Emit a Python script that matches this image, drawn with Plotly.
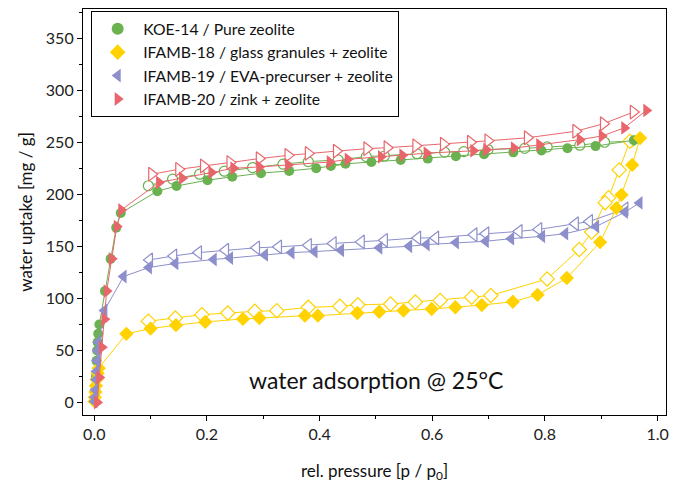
import plotly.graph_objects as go

# ---- KOE-14 / Pure zeolite ----
koe_ads_p = [0.0005, 0.002, 0.003, 0.004, 0.005, 0.006, 0.007, 0.009, 0.019, 0.029, 0.039, 0.047,
             0.112, 0.146, 0.201, 0.245, 0.296, 0.346, 0.394, 0.420, 0.446, 0.492, 0.544, 0.592,
             0.642, 0.692, 0.744, 0.794, 0.840, 0.890, 0.958]
koe_ads_v = [2, 12, 25, 40, 50, 58, 66, 75, 107, 138, 168, 182,
             203, 208, 213.6, 216.8, 220.3, 222.5, 225, 227.2, 229.3, 231, 233, 234.3,
             236.5, 238.4, 240.3, 242, 244.3, 246.3, 252]
koe_des_p = [0.953, 0.906, 0.862, 0.804, 0.764, 0.699, 0.656, 0.622, 0.573, 0.515, 0.483,
             0.433, 0.380, 0.335, 0.281, 0.231, 0.187, 0.139, 0.096]
koe_des_v = [251, 250, 247.2, 245.5, 244.1, 243, 241, 240.5, 239, 236.8, 236.2,
             233, 231.4, 229, 225.7, 222.2, 219.3, 214.6, 208.2]

# ---- IFAMB-18 / glass granules + zeolite ----
g18_ads_p = [0.0005, 0.001, 0.002, 0.003, 0.004, 0.006, 0.008, 0.057, 0.100, 0.145, 0.197,
             0.264, 0.293, 0.374, 0.397, 0.467, 0.506, 0.549, 0.599, 0.641, 0.688, 0.743,
             0.787, 0.839, 0.898, 0.927, 0.936, 0.955, 0.969]
g18_ads_v = [1, 5, 10, 16, 22, 28, 33, 66, 71, 74.3, 77.4,
             80.3, 81.2, 83.4, 83.4, 86, 87.2, 88.4, 89.8, 91.5, 93.6, 96.8,
             103.4, 119.6, 154, 186.8, 199.5, 228.2, 254]
g18_des_p = [0.951, 0.932, 0.913, 0.907, 0.883, 0.861, 0.804, 0.704, 0.670, 0.614, 0.570,
             0.526, 0.468, 0.436, 0.380, 0.324, 0.285, 0.237, 0.191, 0.144, 0.096]
g18_des_v = [251, 223.4, 196.6, 192, 163.8, 147, 118.7, 102.8, 101.2, 98.1, 96.5,
             94.6, 93.9, 92.4, 91.4, 88.2, 87.6, 86, 84.4, 81.2, 78.1]

# ---- IFAMB-19 / EVA-precurser + zeolite ----
e19_ads_p = [0.0005, 0.001, 0.002, 0.003, 0.004, 0.005, 0.006, 0.007, 0.018, 0.052, 0.097,
             0.144, 0.212, 0.241, 0.303, 0.350, 0.391, 0.438, 0.506, 0.559, 0.590, 0.642,
             0.695, 0.740, 0.795, 0.836, 0.891, 0.942, 0.968]
e19_ads_v = [1, 5, 12, 22, 30, 40, 50, 58, 88.5, 121, 129.7,
             133.6, 137.4, 138.7, 141.8, 144, 145, 146.3, 148.6, 150.1, 151.7, 153.6,
             154.9, 157.4, 159.6, 162.2, 169.1, 182.9, 191.7]
e19_des_p = [0.942, 0.879, 0.854, 0.789, 0.754, 0.695, 0.674, 0.606, 0.574, 0.515, 0.474,
             0.424, 0.380, 0.327, 0.288, 0.233, 0.185, 0.141, 0.098]
e19_des_v = [186, 173.9, 171.7, 166.3, 164.4, 162.2, 161.2, 158.1, 158.1, 155.8, 154.3,
             152.7, 151, 149.5, 148.6, 146.3, 144, 140.8, 137]

# ---- IFAMB-20 / zink + zeolite ----
z20_ads_p = [0.005, 0.009, 0.0135, 0.018, 0.022, 0.031, 0.040, 0.048, 0.115, 0.156, 0.208,
             0.247, 0.293, 0.344, 0.418, 0.450, 0.509, 0.547, 0.590, 0.673, 0.696, 0.745,
             0.790, 0.862, 0.901, 0.941, 0.980]
z20_ads_v = [0, 24, 53, 80, 107, 138, 169, 185, 211.4, 215.5, 221,
             225, 226.3, 228.2, 231, 233.6, 236, 237.5, 239.5, 241.8, 242.8, 244.4,
             247.5, 252.5, 256, 263.8, 280.6]
z20_des_p = [0.957, 0.904, 0.855, 0.769, 0.699, 0.668, 0.620, 0.571, 0.520, 0.484, 0.430,
             0.380, 0.344, 0.293, 0.241, 0.194, 0.150, 0.102]
z20_des_v = [279, 267.8, 260.6, 254.3, 251.4, 250.1, 248.2, 246.6, 244.8, 243.8, 241.5,
             239.3, 237.4, 234.3, 230.5, 227.2, 224, 219.3]

labels = ["KOE-14 / Pure zeolite",
          "IFAMB-18 / glass granules + zeolite",
          "IFAMB-19 / EVA-precurser + zeolite",
          "IFAMB-20 / zink + zeolite"]
colors = ["#6ab150", "#ffd200", "#8c8fcb", "#e8666b"]
symbols = ["circle", "diamond", "triangle-left", "triangle-right"]
sizes = [10, 11, 12, 12]

series = [
    (koe_ads_p, koe_ads_v, koe_des_p, koe_des_v),
    (g18_ads_p, g18_ads_v, g18_des_p, g18_des_v),
    (e19_ads_p, e19_ads_v, e19_des_p, e19_des_v),
    (z20_ads_p, z20_ads_v, z20_des_p, z20_des_v),
]

FONT = "Lato"
fig = go.Figure()

# desorption branches (hollow markers) underneath
for (ap, av, dp, dv), lab, col, sym, sz in zip(series, labels, colors, symbols, sizes):
    fig.add_trace(go.Scatter(
        x=dp, y=dv, mode="lines+markers", showlegend=False, name=lab + " (des.)",
        line=dict(color=col, width=1),
        marker=dict(symbol=sym, size=sz, color="white", line=dict(color=col, width=1.2)),
    ))

# adsorption branches (filled markers)
for (ap, av, dp, dv), lab, col, sym, sz in zip(series, labels, colors, symbols, sizes):
    fig.add_trace(go.Scatter(
        x=ap, y=av, mode="lines+markers", name=lab, showlegend=False,
        line=dict(color=col, width=1),
        marker=dict(symbol=sym, size=sz, color=col, line=dict(width=0)),
    ))

# legend entries: marker symbol only
for lab, col, sym, sz in zip(labels, colors, symbols, sizes):
    fig.add_trace(go.Scatter(
        x=[None], y=[None], mode="markers", name=lab,
        marker=dict(symbol=sym, size=sz, color=col, line=dict(width=0)),
    ))

fig.add_annotation(
    x=0.5, y=22, xref="x", yref="y", text="water adsorption @ 25°C",
    showarrow=False, font=dict(family=FONT, size=23, color="#111111"),
)

axis_common = dict(
    showline=True, linecolor="black", linewidth=1.2, mirror=True,
    ticks="outside", ticklen=5, tickwidth=1.2, tickcolor="black",
    showgrid=False, zeroline=False,
    tickfont=dict(family=FONT, size=16, color="#222222"),
)

fig.update_xaxes(
    range=[-0.02, 1.015], dtick=0.2, tickformat=".1f",
    minor=dict(dtick=0.1, ticks="outside", ticklen=3, tickcolor="black", tickwidth=1),
    title=dict(text="rel. pressure [p / p<sub>0</sub>]", font=dict(family=FONT, size=17, color="#111111"),
               standoff=22),
    **axis_common,
)
fig.update_yaxes(
    range=[-12, 378], dtick=50,
    minor=dict(dtick=25, ticks="outside", ticklen=3, tickcolor="black", tickwidth=1),
    title=dict(text="water uptake [mg / g]", font=dict(family=FONT, size=17, color="#111111"),
               standoff=8),
    **axis_common,
)

fig.update_layout(
    width=677, height=485,
    margin=dict(l=83, r=9, t=8, b=67),
    paper_bgcolor="white", plot_bgcolor="white",
    legend=dict(
        x=0.014, y=0.995, xanchor="left", yanchor="top",
        bgcolor="white", bordercolor="black", borderwidth=1,
        font=dict(family=FONT, size=15.7, color="#111111"),
        itemsizing="constant", tracegroupgap=0, itemwidth=41,
    ),
)

fig.write_html("out.html")
